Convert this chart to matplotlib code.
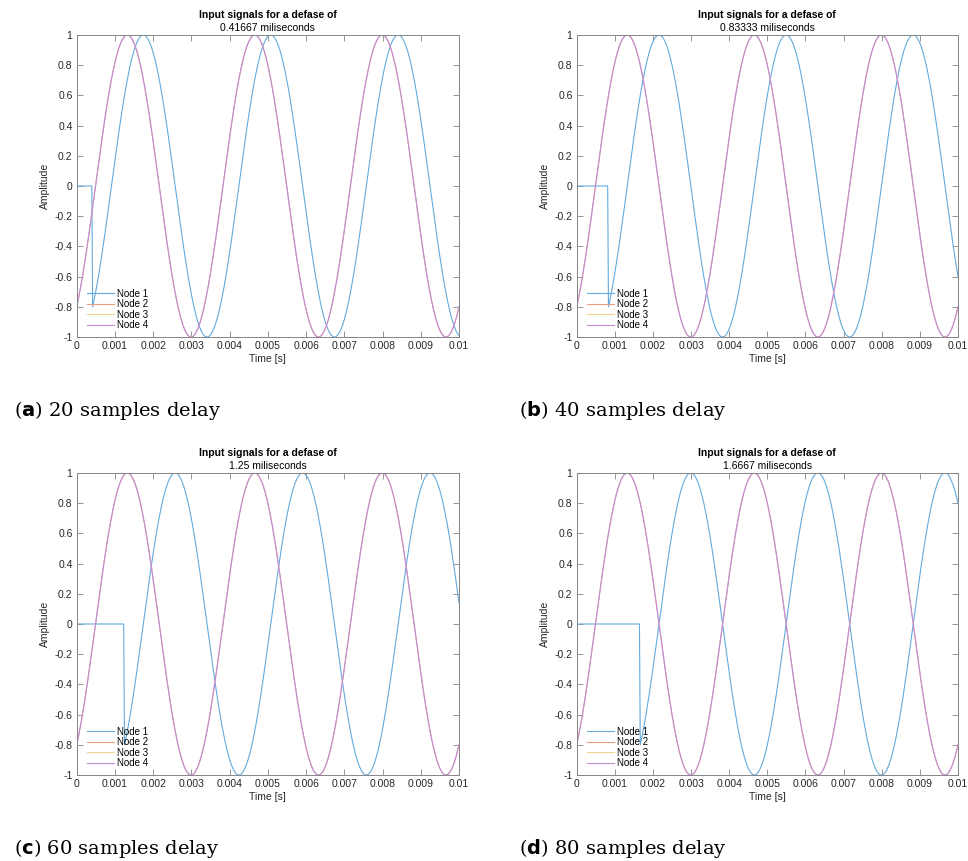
import numpy as np
import matplotlib.pyplot as plt
from matplotlib.lines import Line2D

# signal settings
fs = 48000              # samples per second
f0 = 300                # tone frequency, Hz
start_value = -0.8      # value of the undelayed tone at t = 0
t_end = 0.01            # seconds shown

delay_samples = [20, 40, 60, 80]
panel_tags = ["a", "b", "c", "d"]
node_names = ["Node 1", "Node 2", "Node 3", "Node 4"]
node_colors = ["#64aadd", "#ee9c80", "#f3d58c", "#c48dd3"]

xticks = np.round(np.arange(0, 0.0101, 0.001), 3)
xtick_labels = ["0", "0.001", "0.002", "0.003", "0.004", "0.005",
                "0.006", "0.007", "0.008", "0.009", "0.01"]
yticks = np.round(np.arange(-1, 1.01, 0.2), 1)
ytick_labels = ["-1", "-0.8", "-0.6", "-0.4", "-0.2", "0",
                "0.2", "0.4", "0.6", "0.8", "1"]

plt.rcParams['font.family'] = ['Liberation Sans', 'DejaVu Sans']

t = np.arange(int(round(t_end * fs)) + 1) / fs
phase = np.arcsin(start_value)
tone = np.sin(2 * np.pi * f0 * t + phase)


def delayed(n):
    out = np.zeros_like(tone)
    out[n:] = tone[:len(tone) - n]
    return out


fig = plt.figure(figsize=(9.68, 8.61), dpi=100)
W, H = 968, 861
boxes = [(76.7, 35, 459, 337), (576.7, 35, 958, 337),
         (76.7, 473, 459, 775), (576.7, 473, 958, 775)]
cap_pos = [(14, 410), (519, 410), (14, 848), (519, 848)]
grey = "#262626"
spine = "#858585"

for k, n in enumerate(delay_samples):
    x0, y0, x1, y1 = boxes[k]
    ax = fig.add_axes([x0 / W, 1 - y1 / H, (x1 - x0) / W, (y1 - y0) / H])

    # nodes 2 and 3 carry the same undelayed tone as node 4 and sit under it
    sig = [delayed(n), tone, tone, tone]
    widths = [0.8, 0.5, 0.5, 0.9]
    for s, c, w, name in zip(sig, node_colors, widths, node_names):
        ax.plot(t, s, color=c, lw=w, label=name)

    ax.set_xlim(0, t_end)
    ax.set_ylim(-1, 1)
    ax.set_xticks(xticks)
    ax.set_xticklabels(xtick_labels)
    ax.set_yticks(yticks)
    ax.set_yticklabels(ytick_labels)
    ax.tick_params(direction="in", length=4, width=0.6, color=spine,
                   labelsize=7.5, labelcolor=grey, top=True, right=True, pad=3)
    for sp in ax.spines.values():
        sp.set_color(spine)
        sp.set_linewidth(0.7)

    ax.set_xlabel("Time [s]", fontsize=7.5, color=grey, labelpad=2)
    ax.set_ylabel("Amplitude", fontsize=7.5, color=grey)
    ax.yaxis.set_label_coords(-27 / (x1 - x0), 0.5)

    delay_ms = n / fs * 1000
    ax.text(0.5, 1 + 20 / 302, "Input signals for a defase of", transform=ax.transAxes,
            ha="center", va="center", fontsize=7.5, fontweight="bold", color="k")
    ax.text(0.5, 1 + 7 / 302, f"{delay_ms:.5g} miliseconds", transform=ax.transAxes,
            ha="center", va="center", fontsize=7.5, color="k")

    handles = [Line2D([], [], color=c, lw=0.8) for c in node_colors]
    ax.legend(handles, node_names, loc="lower left", frameon=False, fontsize=7,
              handlelength=2.7, handletextpad=0.35, labelspacing=0.05,
              borderaxespad=0.3, bbox_to_anchor=(0.01, 0.0))

    cx, cy = cap_pos[k]
    fig.text(cx / W, 1 - cy / H,
             rf"($\mathbf{{{panel_tags[k]}}}$) {n} samples delay",
             fontsize=14, family="DejaVu Serif", va="center", ha="left")

fig.savefig("out.png", dpi=100)
